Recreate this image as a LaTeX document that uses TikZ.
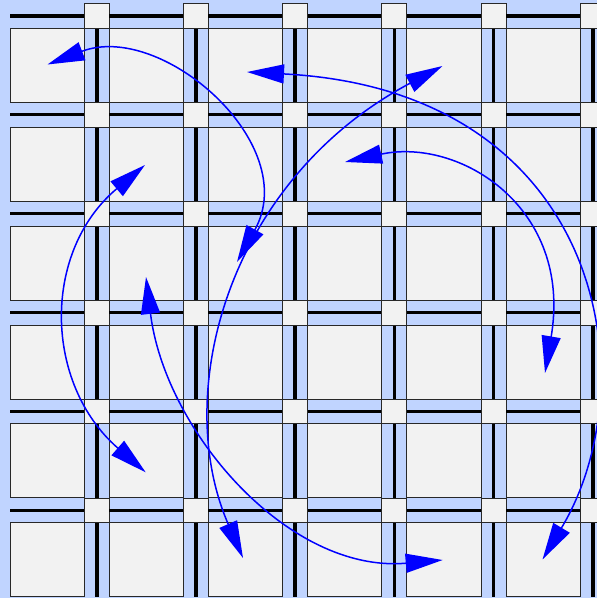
\documentclass[tikz,border=0pt]{standalone}
\usetikzlibrary{arrows.meta}
\definecolor{bgblue}{RGB}{192,212,255}
\definecolor{cellgray}{RGB}{242,242,242}
\definecolor{edgegray}{RGB}{40,40,40}
\begin{document}
\begin{tikzpicture}[x=1pt,y=-1pt,
  cell/.style={draw=edgegray,fill=cellgray,line width=1pt,minimum width=74.3pt,minimum height=74pt,inner sep=0pt,outer sep=0pt,anchor=north west},
  sbox/.style={draw=edgegray,fill=cellgray,line width=1pt,minimum width=25pt,minimum height=24.8pt,inner sep=0pt,outer sep=0pt,anchor=south west},
  wire/.style={line width=3.5pt,black},
  link/.style={blue,line width=1.5pt,{Triangle[length=37pt,width=19pt]}-{Triangle[length=37pt,width=19pt]}}
]
\useasboundingbox (0,0) rectangle (597,598);
\clip (0,0) rectangle (597,598);
\fill[bgblue] (0,0) rectangle (597,598);
\foreach \i in {0,...,5}{
  \foreach \j in {0,...,5}{
    \pgfmathsetmacro\xx{10+99.2*\i}
    \pgfmathsetmacro\yy{28.3+98.9*\j}
    \draw[wire] (\xx,\yy-12.5) -- (\xx+74.3,\yy-12.5);
    \draw[wire] (\xx+86.75,\yy) -- (\xx+86.75,\yy+74);
    \node[cell] (c-\i-\j) at (\xx,\yy) {};
    \node[sbox] (s-\i-\j) at (\xx+74.3,\yy) {};
  }
}
\coordinate (ta) at (47.5,64.5);
\coordinate (tc) at (237,262);
\coordinate (te) at (442.5,66);
\coordinate (tj) at (243,558);
\coordinate (tf) at (247,72);
\coordinate (tl) at (542.5,559.5);
\coordinate (tg) at (345,162);
\coordinate (th) at (545,373);
\coordinate (tb) at (145,165);
\coordinate (ti) at (145.7,472.3);
\coordinate (td) at (146,277);
\coordinate (tk) at (442.7,560);
\draw[link] (ta) .. controls +(114,-43.7) and +(65.5,-118) .. (tc);
\draw[link] (te) .. controls +(-214.6,114) and +(-72,-165) .. (tj);
\draw[link] (tf) .. controls +(356.6,18.6) and +(107.1,-178.3) .. (tl);
\draw[link] (tg) .. controls +(115,-25) and +(28,-165) .. (th);
\draw[link] (tb) .. controls +(-103.4,86.8) and +(-101.9,-88.6) .. (ti);
\draw[link] (td) .. controls +(18.9,153.9) and +(-154.4,13.5) .. (tk);
\end{tikzpicture}
\end{document}
